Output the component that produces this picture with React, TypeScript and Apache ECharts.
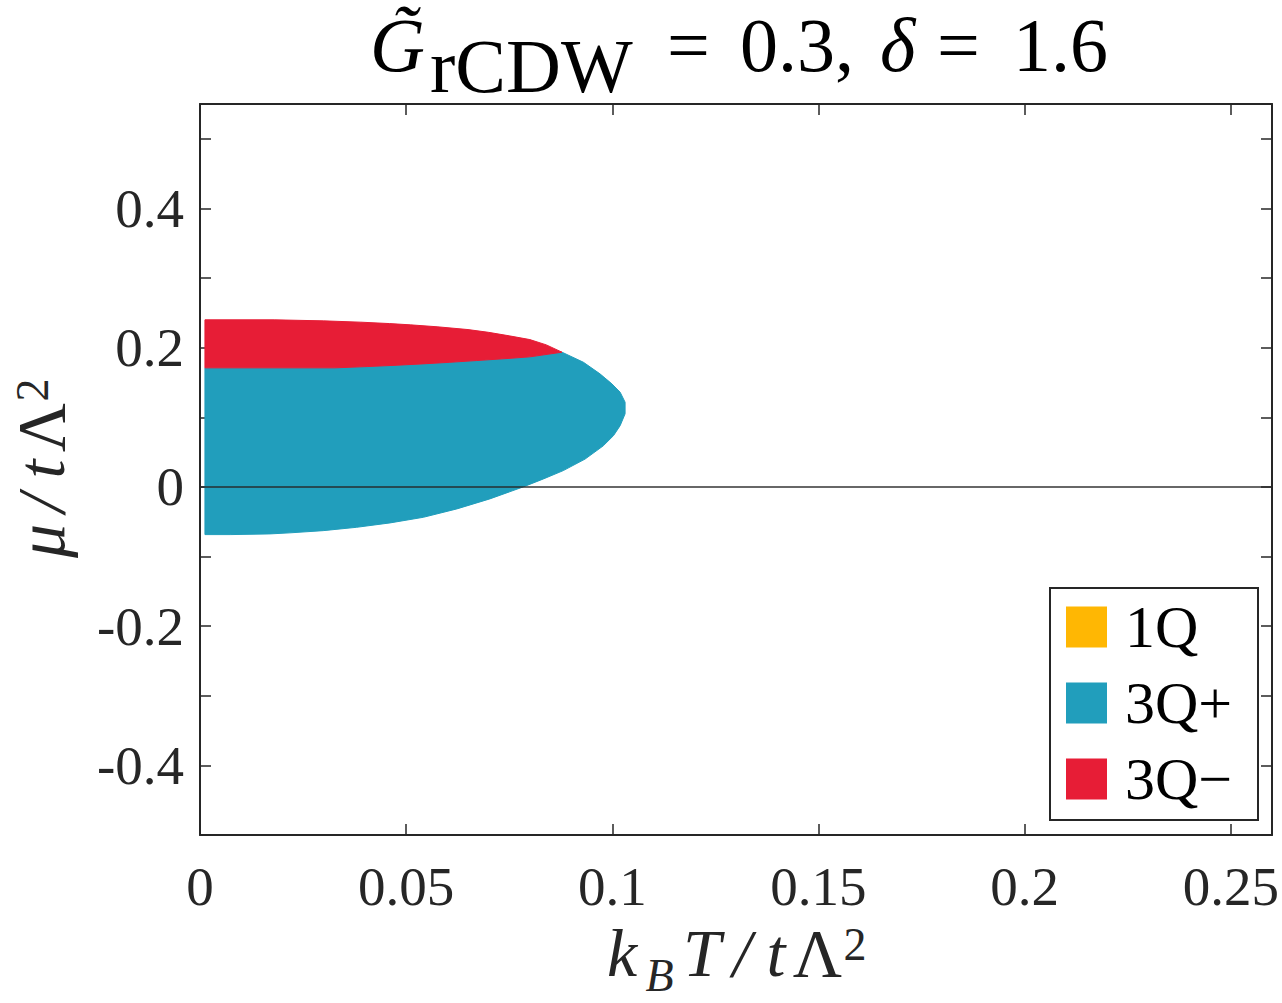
import React, { useEffect, useRef } from "react";
import * as echarts from "echarts";

const FONT = "'Liberation Serif', 'DejaVu Serif', serif";
const INK = "#262626";

const xTickValues = [0, 0.05, 0.1, 0.15, 0.2, 0.25];
const xRange = [0, 0.26];
const yRange = [-0.5, 0.55];
const yLabelValues = [-0.4, -0.2, 0, 0.2, 0.4];

const phaseNames = ["1Q", "3Q+", "3Q\u2212"];
const phaseColors = ["#FFB703", "#219EBC", "#E71D36"];

// 3Q− upper boundary (left edge to tip)
const redTopT = [0.0012, 0.018, 0.03, 0.039, 0.046, 0.051, 0.0575, 0.065, 0.07, 0.075, 0.08, 0.084, 0.0878];
const redTopMu = [0.24, 0.24, 0.2385, 0.2366, 0.2346, 0.2328, 0.23, 0.226, 0.222, 0.217, 0.2116, 0.204, 0.1935];

// 3Q− / 3Q+ interface (left edge to tip)
const interfaceT = [0.0012, 0.0327, 0.0407, 0.0478, 0.054, 0.0606, 0.0671, 0.0735, 0.08, 0.0878];
const interfaceMu = [0.171, 0.171, 0.1729, 0.1748, 0.1767, 0.179, 0.1815, 0.184, 0.1868, 0.1935];

// 3Q+ outer boundary (tip, around the nose, to bottom-left)
const blueOuterT = [0.0878, 0.093, 0.097, 0.0999, 0.1019, 0.1031, 0.1031, 0.1019, 0.1003, 0.0978, 0.0934, 0.0881, 0.0833, 0.0784, 0.0703, 0.0623, 0.0542, 0.0461, 0.038, 0.0299, 0.0218, 0.017, 0.0073, 0.0012];
const blueOuterMu = [0.1935, 0.179, 0.1624, 0.148, 0.136, 0.1217, 0.105, 0.088, 0.0737, 0.059, 0.04, 0.0234, 0.0115, 0.0, -0.0172, -0.0316, -0.0436, -0.0517, -0.058, -0.0628, -0.066, -0.0675, -0.0685, -0.0685];

const zeroLineT = [0, 0.26];
const zeroLineMu = [0, 0];

const zip = (a: number[], b: number[]) => a.map((v, i) => [v, b[i]]);

const redPoly = [...zip(redTopT, redTopMu), ...zip(interfaceT, interfaceMu).reverse()];
const bluePoly = [...zip(interfaceT, interfaceMu), ...zip(blueOuterT, blueOuterMu)];

function polySeries(name: string, pts: number[][], color: string) {
  return {
    type: "custom",
    name,
    coordinateSystem: "cartesian2d",
    data: pts,
    encode: { x: 0, y: 1 },
    itemStyle: { color },
    clip: true,
    silent: true,
    z: 2,
    renderItem: (params: any, api: any) => {
      if (params.dataIndex !== 0) return null;
      const points = pts.map((p) => api.coord(p));
      return {
        type: "polygon",
        shape: { points },
        style: { fill: color, stroke: color, lineWidth: 1 },
      };
    },
  };
}

const mainTok = (w: number, italic = false) => ({
  fontSize: 68,
  fontFamily: FONT,
  fontStyle: italic ? "italic" : "normal",
  fontWeight: "normal",
  width: w,
  verticalAlign: "top",
});

export default function App() {
  const ref = useRef<HTMLDivElement>(null);
  useEffect(() => {
    if (!ref.current) return;
    const chart = echarts.init(ref.current, null, { renderer: "svg" });
    const xFmt = (v: number) =>
      xTickValues.some((t) => Math.abs(t - v) < 1e-9) ? String(+v.toFixed(3)) : "";
    const yFmt = (v: number) =>
      yLabelValues.some((t) => Math.abs(t - v) < 1e-9) ? (Math.abs(v) < 1e-9 ? "0" : String(+v.toFixed(2))) : "";

    const axisCommon = {
      axisLine: { show: true, onZero: false, lineStyle: { color: INK, width: 2 } },
      axisTick: { show: true, inside: true, length: 11, lineStyle: { color: INK, width: 1.5 } },
      splitLine: { show: false },
    };

    const tTok = (w: number, italic = false, padTop = 0) => ({
      fontSize: 76,
      fontFamily: FONT,
      fontStyle: italic ? "italic" : "normal",
      fontWeight: "normal",
      width: w,
      verticalAlign: "top",
      padding: [padTop, 0, 0, 0],
    });

    const option: any = {
      animation: false,
      backgroundColor: "#ffffff",
      title: {
        left: 370,
        top: 7,
        padding: 0,
        text: "{g|G\u0303}{s|rCDW}{eq|=}{n1|0.3,}{d|\u03B4}{eq2|=}{n2|1.6}",
        textStyle: {
          fontFamily: FONT,
          fontWeight: "normal",
          color: "#000",
          rich: {
            g: tTok(60, true),
            s: tTok(237, false, 21),
            eq: tTok(73),
            n1: tTok(140),
            d: tTok(57, true),
            eq2: tTok(76),
            n2: tTok(90),
          },
        },
      },
      grid: { left: 200, top: 104, right: 10, bottom: 168, containLabel: false, outerBoundsMode: "none" },
      graphic: [
        {
          type: "rect",
          left: 1049,
          top: 587,
          z: 10,
          shape: { width: 208, height: 232 },
          style: { fill: "#ffffff", stroke: INK, lineWidth: 2 },
          silent: true,
        },
      ],
      legend: {
        data: phaseNames,
        orient: "vertical",
        left: 1066,
        top: 597,
        z: 12,
        icon: "rect",
        itemWidth: 41,
        itemHeight: 41,
        itemGap: 16,
        selectedMode: false,
        padding: 0,
        textStyle: { fontFamily: FONT, fontSize: 60, color: "#000", padding: [0, 0, 0, 13] },
      },
      xAxis: [
        {
          type: "value",
          min: xRange[0],
          max: xRange[1],
          interval: 0.05,
          position: "bottom",
          ...axisCommon,
          axisLabel: { formatter: xFmt, showMaxLabel: false, fontFamily: FONT, fontSize: 55, color: INK, margin: 24 },
          name: "{k|k}{b|B}{t|T}{sl|/}{tt|t}{l|\u039B}{p|2}",
          nameLocation: "middle",
          nameGap: 84,
          nameMoveOverlap: false,
          nameTextStyle: {
            fontFamily: FONT,
            color: INK,
            rich: {
              k: mainTok(34, true),
              b: { fontSize: 46, fontStyle: "italic", fontFamily: FONT, width: 41, verticalAlign: "top", padding: [33, 0, 0, 0] },
              t: mainTok(44, true),
              sl: mainTok(36, true),
              tt: mainTok(32, true),
              l: mainTok(51),
              p: { fontSize: 46, fontFamily: FONT, width: 24, verticalAlign: "top", padding: [2, 0, 0, 0] },
            },
          },
        },
        {
          type: "value",
          min: xRange[0],
          max: xRange[1],
          interval: 0.05,
          position: "top",
          ...axisCommon,
          axisLabel: { show: false },
        },
      ],
      yAxis: [
        {
          type: "value",
          min: yRange[0],
          max: yRange[1],
          interval: 0.1,
          position: "left",
          ...axisCommon,
          axisLabel: { formatter: yFmt, showMaxLabel: false, fontFamily: FONT, fontSize: 55, color: INK, margin: 16 },
          name: "{m|\u03BC}{sl|/}{tt|t}{l|\u039B}{p|2}",
          nameLocation: "middle",
          nameGap: 125,
          nameMoveOverlap: false,
          nameTextStyle: {
            fontFamily: FONT,
            color: INK,
            rich: {
              m: mainTok(40, true),
              sl: mainTok(36, true),
              tt: mainTok(32, true),
              l: mainTok(51),
              p: { fontSize: 46, fontFamily: FONT, width: 24, verticalAlign: "top", padding: [2, 0, 0, 0] },
            },
          },
        },
        {
          type: "value",
          min: yRange[0],
          max: yRange[1],
          interval: 0.1,
          position: "right",
          ...axisCommon,
          axisLabel: { show: false },
        },
      ],
      series: [
        {
          type: "custom",
          name: phaseNames[0],
          coordinateSystem: "cartesian2d",
          data: [],
          itemStyle: { color: phaseColors[0] },
          renderItem: () => null,
        },
        polySeries(phaseNames[1], bluePoly, phaseColors[1]),
        polySeries(phaseNames[2], redPoly, phaseColors[2]),
        {
          type: "line",
          name: "zero",
          data: zip(zeroLineT, zeroLineMu),
          symbol: "none",
          silent: true,
          lineStyle: { color: "rgba(38,38,38,0.7)", width: 2 },
          z: 5,
        },
      ],
    };
    chart.setOption(option);
    return () => chart.dispose();
  }, []);
  return (
    <div
      ref={ref}
      style={{ position: "absolute", left: 0, top: 0, width: 1282, height: 1003, background: "#fff" }}
    />
  );
}
